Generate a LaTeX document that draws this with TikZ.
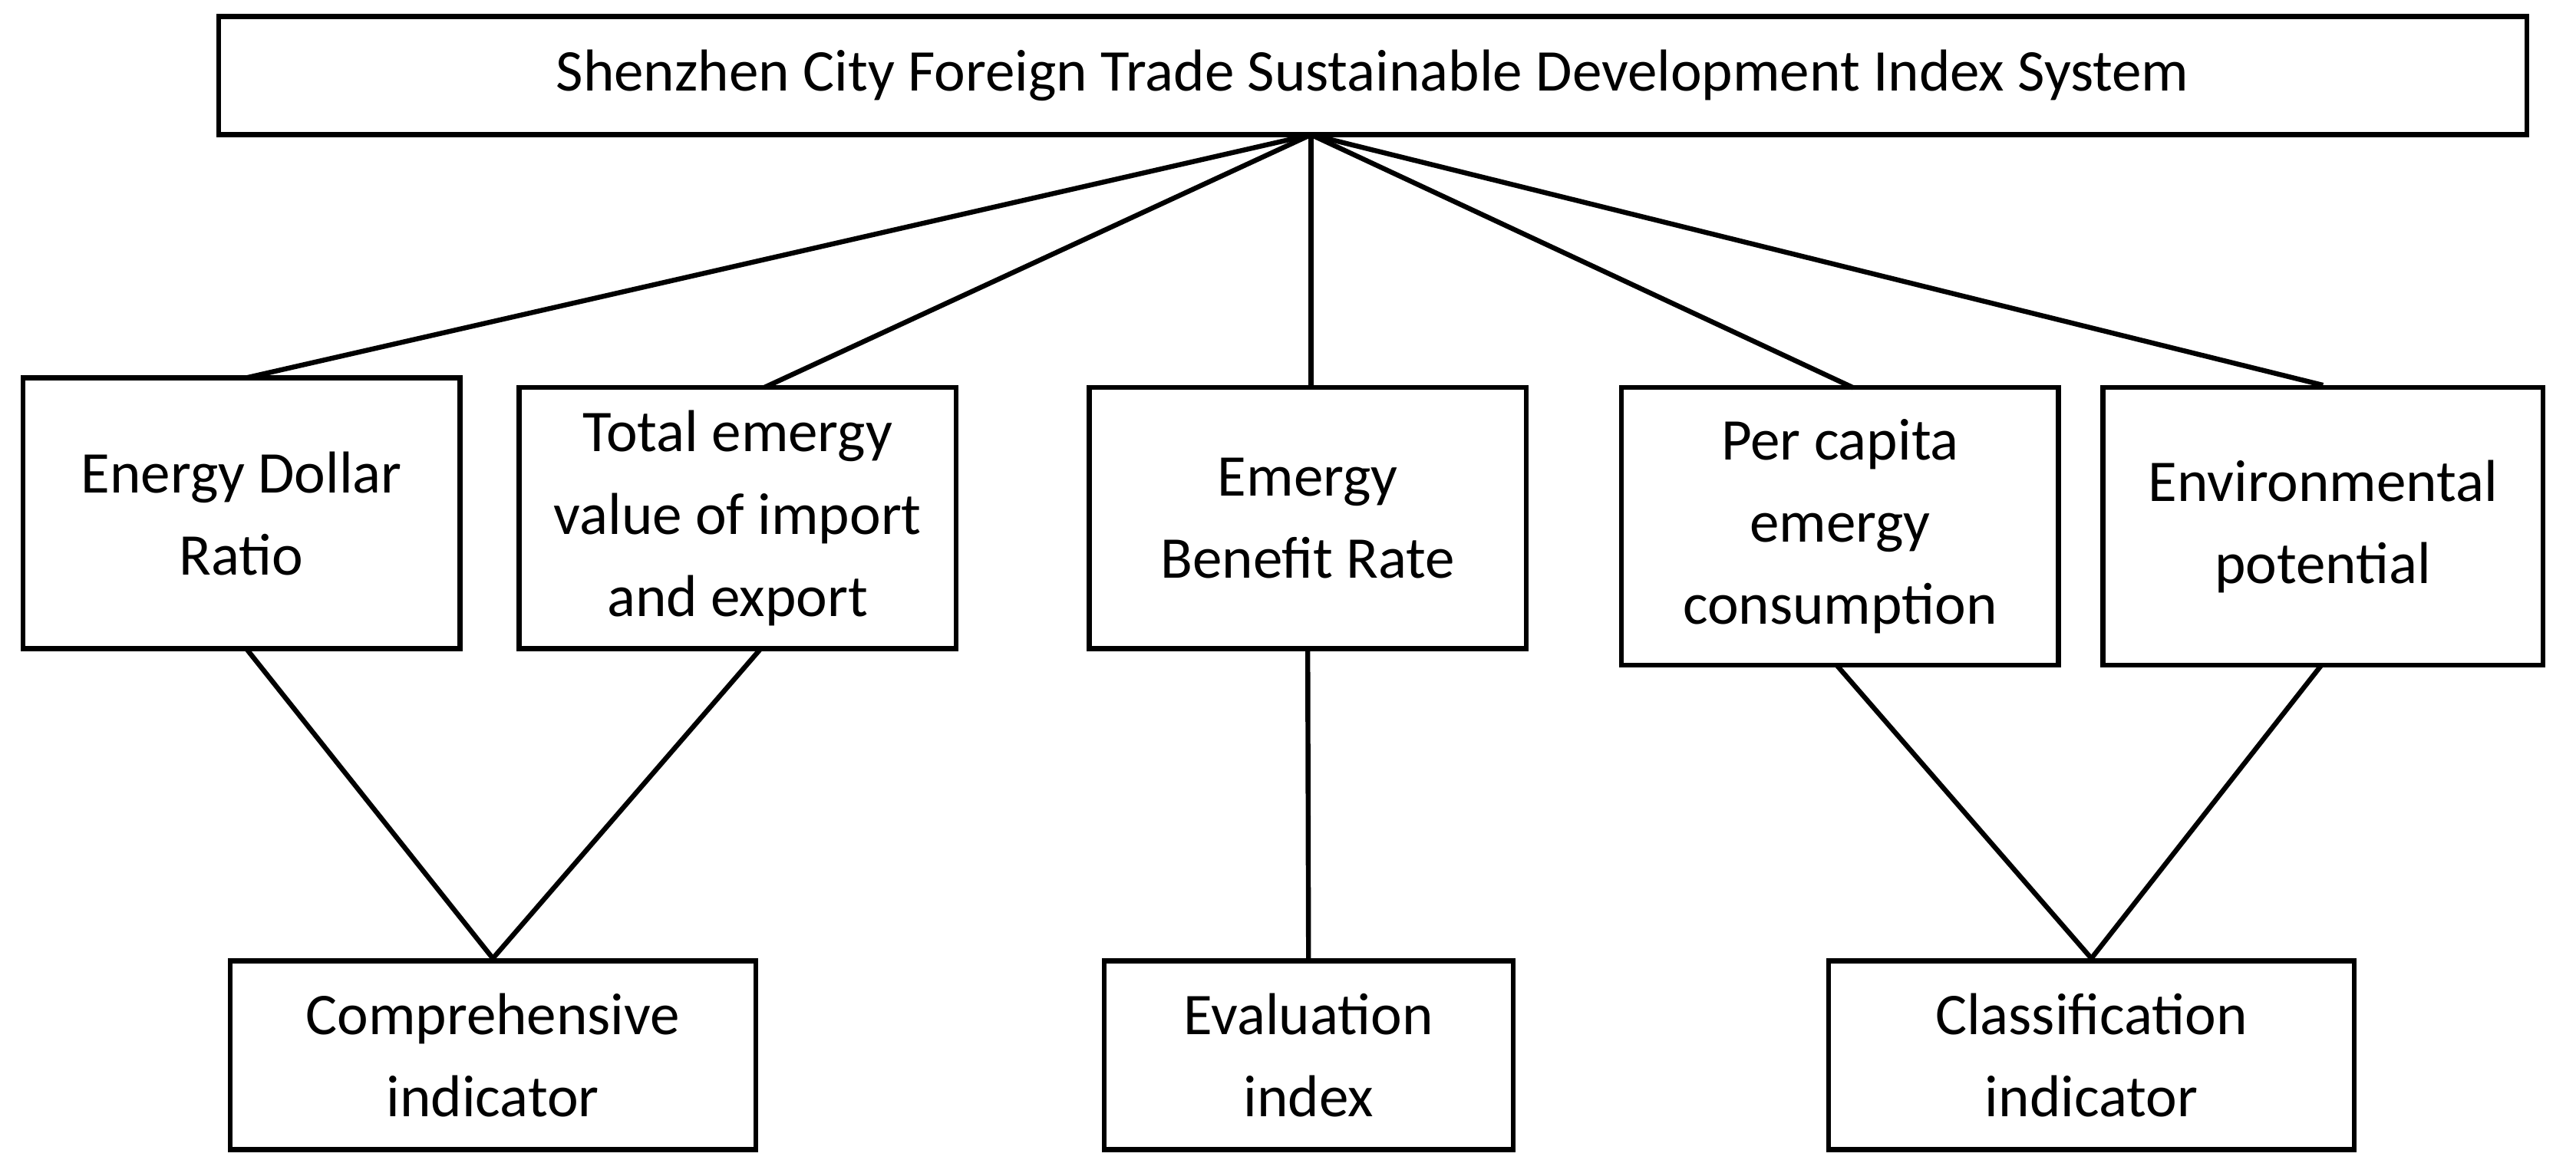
\documentclass[tikz,border=0pt]{standalone}
\usepackage{fontspec}
\setmainfont{Carlito}
\begin{document}
\begin{tikzpicture}[x=0.5pt,y=-0.5pt,
  box/.style={draw,line width=1.5pt,align=center,inner sep=0pt,font=\fontsize{18}{25}\selectfont},
  ln/.style={line width=1.5pt}]
\useasboundingbox (0,0) rectangle (1568,714);
\node[box,minimum width=702.5pt,minimum height=36pt] (top) at (835.5,46) {Shenzhen City Foreign Trade Sustainable Development Index System};
\node[box,minimum width=133pt,minimum height=82.5pt] (b1) at (147,312.5) {Energy Dollar\\Ratio};
\node[box,minimum width=133pt,minimum height=79.5pt] (b2) at (449,315.5) {Total emergy\\value of import\\and export};
\node[box,minimum width=133pt,minimum height=79.5pt] (b3) at (796,315.5) {Emergy\\Benefit Rate};
\node[box,minimum width=133pt,minimum height=84.5pt] (b4) at (1120,320.5) {Per capita\\emergy\\consumption};
\node[box,minimum width=134pt,minimum height=84.5pt] (b5) at (1414,320.5) {Environmental\\potential};
\node[box,minimum width=160pt,minimum height=57.5pt] (c1) at (300,642.5) {Comprehensive\\indicator};
\node[box,minimum width=124.5pt,minimum height=57.5pt] (c2) at (796.5,642.5) {Evaluation\\index};
\node[box,minimum width=160pt,minimum height=57.5pt] (c3) at (1273,642.5) {Classification\\indicator};
\coordinate (apex) at (798,82);
\coordinate (b1t) at (150,230); \coordinate (b1b) at (150,395);
\coordinate (b2t) at (465,236); \coordinate (b2b) at (463,395);
\coordinate (b4t) at (1128,236); \coordinate (b4b) at (1118,405);
\coordinate (b5b) at (1413,405);
\draw[ln] (apex) -- (b1t);
\draw[ln] (apex) -- (b2t);
\draw[ln] (apex) -- (b3.north -| apex);
\draw[ln] (apex) -- (b4t);
\draw[ln] (apex) -- (b5.north);
\draw[ln] (b1b) -- (c1.north);
\draw[ln] (b2b) -- (c1.north);
\draw[ln] (b3.south) -- (c2.north);
\draw[ln] (b4b) -- (c3.north);
\draw[ln] (b5b) -- (c3.north);
\end{tikzpicture}
\end{document}
